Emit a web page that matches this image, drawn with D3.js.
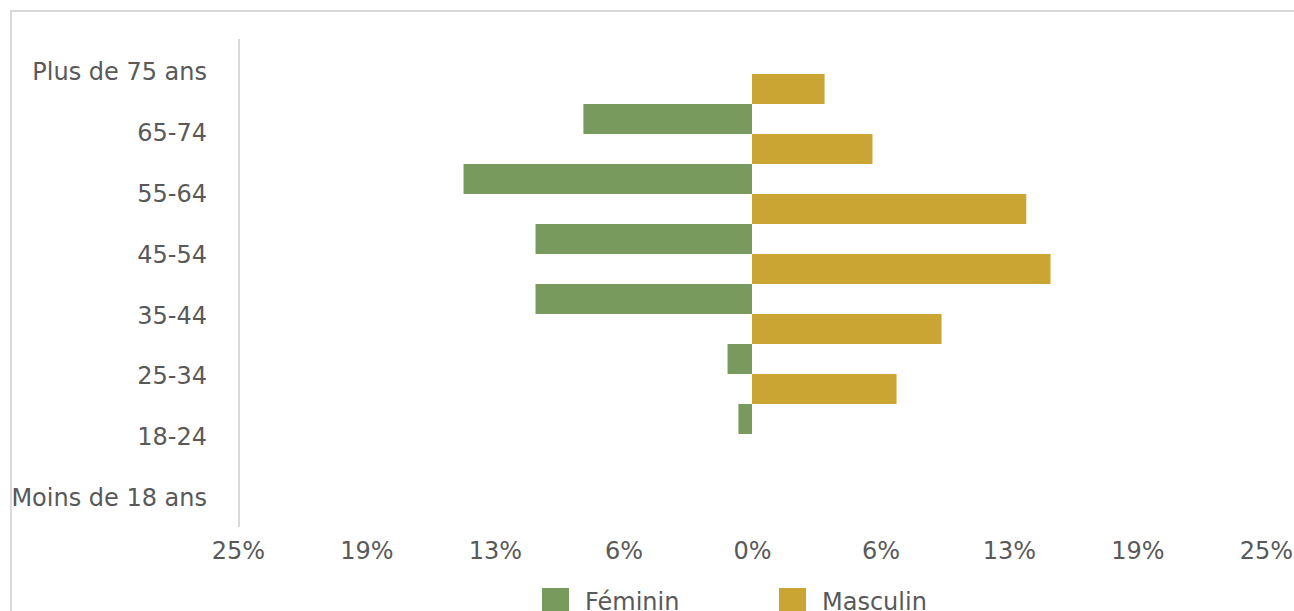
<!DOCTYPE html>
<html>
<head>
<meta charset="utf-8">
<script src="https://cdn.jsdelivr.net/npm/d3@7"></script>
<style>
  body { margin: 0; background: #fff; }
  svg { display: block; font-family: "DejaVu Sans", Verdana, sans-serif; }
</style>
</head>
<body>
<div id="chart"></div>
<script>
// ===============================
// Data (top to bottom, as drawn)
// ===============================
const categories = ["Plus de 75 ans", "65-74", "55-64", "45-54", "35-44", "25-34", "18-24", "Moins de 18 ans"];
const series = ["Masculin", "Féminin"];
const feminin = [8.2, 14.03, 10.53, 10.53, 1.19, 0.66, 0, 0];
const masculin = [3.53, 5.86, 13.34, 14.52, 9.22, 7.03, 0, 0];
const tickValues = [-25, -18.75, -12.5, -6.25, 0, 6.25, 12.5, 18.75, 25];

// ===============================
// Constants
// ===============================
const W = 1294;
const H = 611;
const textColor = "#595959";
const gridColor = "#d9d9d9";
const fontSize = 24;
const colors = { "Féminin": "#789a5c", "Masculin": "#caa533" };

const rows = categories.map((c, i) => ({ cat: c, f: feminin[i], m: masculin[i] }));

const svg = d3.select("#chart")
    .append("svg")
    .attr("width", W)
    .attr("height", H);

// chart border
svg.append("rect")
    .attr("x", 11)
    .attr("y", 11)
    .attr("width", W)
    .attr("height", H + 20)
    .attr("fill", "none")
    .attr("stroke", gridColor)
    .attr("stroke-width", 2);

// scales
const x = d3.scaleLinear().domain([-25, 25]).range([238, 1266]);
const yLabel = d3.scalePoint().domain(categories).range([71.5, 497]);
const yBar = d3.scaleBand().domain(categories).range([74, 74 + 60 * categories.length]).padding(0);
const ySub = d3.scaleBand().domain(series).range([0, yBar.bandwidth()]).padding(0);

// vertical axis line
svg.append("line")
    .attr("x1", 239)
    .attr("x2", 239)
    .attr("y1", 39)
    .attr("y2", 527)
    .attr("stroke", gridColor)
    .attr("stroke-width", 2);

// bars
const groups = svg.selectAll(".cat")
    .data(rows)
    .enter()
    .append("g")
    .attr("class", "cat")
    .attr("transform", d => `translate(0,${yBar(d.cat)})`);

groups.append("rect")
    .attr("x", x(0))
    .attr("y", ySub("Masculin"))
    .attr("width", d => x(d.m) - x(0))
    .attr("height", ySub.bandwidth())
    .attr("fill", colors["Masculin"]);

groups.append("rect")
    .attr("x", d => x(-d.f))
    .attr("y", ySub("Féminin"))
    .attr("width", d => x(0) - x(-d.f))
    .attr("height", ySub.bandwidth())
    .attr("fill", colors["Féminin"]);

// category labels
svg.append("g")
    .attr("transform", "translate(207,0)")
    .call(d3.axisLeft(yLabel).tickSize(0).tickPadding(0))
    .call(g => g.select(".domain").remove())
    .call(g => g.selectAll("text")
        .attr("dy", "0.35em")
        .attr("fill", textColor)
        .attr("font-size", fontSize)
        .attr("font-family", "DejaVu Sans, Verdana, sans-serif"));

// x axis labels
svg.append("g")
    .attr("transform", "translate(0,551)")
    .call(d3.axisBottom(x)
        .tickValues(tickValues)
        .tickSize(0)
        .tickPadding(0)
        .tickFormat(d => Math.round(Math.abs(d)) + "%"))
    .call(g => g.select(".domain").remove())
    .call(g => g.selectAll("text")
        .attr("y", 0)
        .attr("dy", "0.35em")
        .attr("fill", textColor)
        .attr("font-size", fontSize)
        .attr("font-family", "DejaVu Sans, Verdana, sans-serif"));

// legend
const legendItems = [
    { name: "Féminin", x: 542 },
    { name: "Masculin", x: 779 }
];
const legend = svg.selectAll(".legend")
    .data(legendItems)
    .enter()
    .append("g")
    .attr("class", "legend")
    .attr("transform", d => `translate(${d.x},588)`);

legend.append("rect")
    .attr("width", 27)
    .attr("height", 27)
    .attr("fill", d => colors[d.name]);

legend.append("text")
    .attr("x", 43)
    .attr("y", 13.5)
    .attr("dy", "0.35em")
    .attr("fill", textColor)
    .attr("font-size", fontSize)
    .text(d => d.name);
</script>
</body>
</html>
